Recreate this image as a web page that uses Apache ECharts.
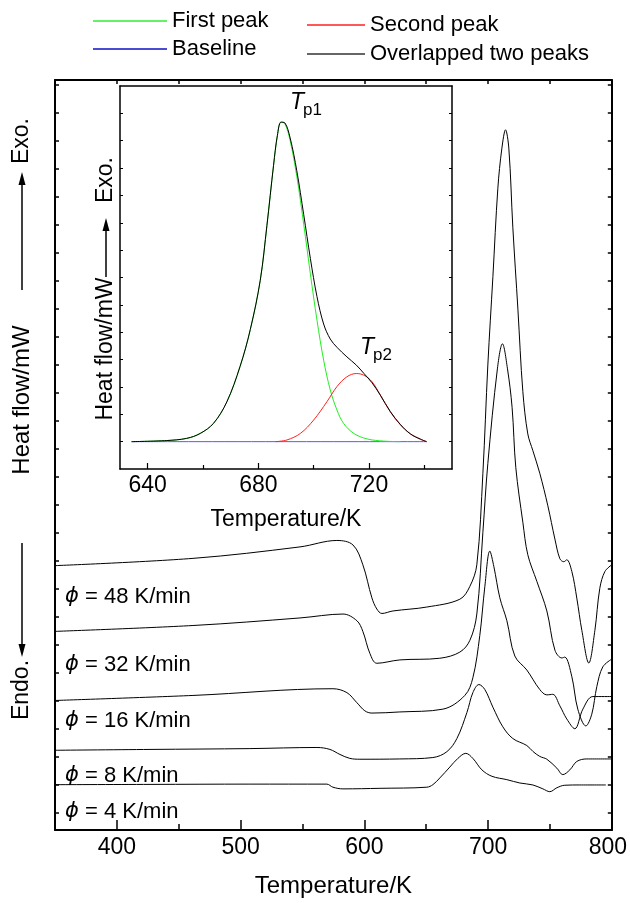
<!DOCTYPE html>
<html>
<head>
<meta charset="utf-8">
<script src="https://cdn.jsdelivr.net/npm/echarts@6/dist/echarts.min.js"></script>
<style>html,body{margin:0;padding:0;background:#fff}#c{width:630px;height:903px}</style>
</head>
<body>
<div id="c"></div>
<script>
// ---- main chart: heating-rate curves [T (K), heat flow (tick units)] ----
const rateNames = ['48 K/min', '32 K/min', '16 K/min', '8 K/min', '4 K/min'];
const curve48 = [[350,8.82],[461.5,9.08],[548.0,9.49],[577.8,9.72],[590.8,9.56],[598.8,8.85],[606.1,7.67],[610.1,7.27],[614.2,7.11],[623.1,7.20],[650.5,7.34],[677.2,7.62],[685.3,8.08],[690.9,8.85],[695.8,12.12],[699.8,15.99],[703.9,19.15],[707.9,22.31],[711.1,23.72],[714.1,24.40],[716.8,23.72],[720.0,20.92],[724.1,17.99],[728.1,15.04],[732.1,13.53],[736.2,12.93],[741.8,12.12],[748.3,10.96],[754.0,9.77],[758.0,9.07],[761.2,8.96],[763.6,9.03],[767.7,8.61],[771.7,7.66],[775.8,6.50],[781.4,5.34],[786.3,6.50],[790.3,8.01],[794.4,8.61],[800,8.85]];
const curve32 = [[350,6.47],[461.5,6.68],[548.0,6.95],[582.7,7.09],[594.0,6.85],[598.8,6.47],[604.5,5.68],[610.1,5.33],[628.7,5.45],[661.0,5.51],[677.2,5.73],[685.3,6.15],[690.9,7.09],[695.8,10.01],[699.8,12.47],[707.6,15.88],[711.6,16.75],[715.6,15.88],[719.4,14.48],[722.4,12.33],[728.1,10.37],[732.1,9.21],[739.4,8.26],[747.5,7.20],[754.0,5.80],[759.6,5.52],[762.0,5.55],[767.7,4.85],[772.5,3.69],[779.0,3.09],[783.8,3.51],[787.9,4.50],[792.7,5.20],[800,5.48]];
const curve16 = [[350,4.00],[461.5,4.18],[574.6,4.42],[585.9,4.28],[594.0,3.92],[600.4,3.63],[606.1,3.55],[628.7,3.59],[663.5,3.69],[681.2,4.18],[687.7,4.81],[693.3,6.32],[697.4,8.08],[701.4,9.34],[704.7,8.78],[709.5,7.67],[715.2,6.85],[721.6,5.59],[731.3,5.09],[741.8,4.39],[747.5,4.20],[752.3,4.22],[758.0,3.81],[763.6,3.34],[770.1,2.99],[776.6,3.69],[784.7,4.14],[800,4.14]];
const curve8 = [[350,2.22],[426.8,2.25],[507.5,2.28],[561.7,2.32],[572.2,2.25],[580.3,2.07],[588.3,1.93],[596.4,1.90],[628.7,1.91],[655.4,1.96],[666.7,2.17],[674.8,2.64],[682.9,3.57],[687.7,4.28],[692.6,4.57],[697.4,4.39],[703.9,3.76],[711.9,3.06],[720.0,2.64],[731.3,2.39],[736.2,2.18],[741.8,2.00],[747.5,1.90],[755.6,1.58],[760.4,1.35],[766.1,1.52],[771.7,1.82],[779.8,1.91],[800,1.91]];
const curve4 = [[350,0.99],[426.8,1.00],[507.5,1.01],[569.7,1.01],[574.6,0.90],[582.7,0.84],[612.6,0.86],[650.5,0.90],[655.4,0.99],[661.0,1.23],[669.1,1.62],[675.6,1.93],[682.0,2.11],[687.7,1.93],[695.0,1.52],[703.1,1.29],[715.2,1.17],[725.7,1.05],[736.2,0.98],[744.3,0.84],[749.9,0.74],[755.6,0.88],[762.0,0.97],[774.2,0.98],[795.2,0.98]];
const rateLabels = ['48 K/min', '32 K/min', '16 K/min', '8 K/min', '4 K/min'];

// ---- inset: peak separation [T (K), heat flow (tick units)] ----
const insetFirst = [[634.2,0],[646.9,0.04],[654.1,0.12],[659,0.30],[663.8,0.67],[668.6,1.45],[673.4,2.75],[677.1,4.1],[680.7,5.9],[683.1,7.9],[685.5,10.1],[686.9,11.2],[688.2,11.68],[689.6,11.62],[691.5,11.0],[693.9,9.7],[696.4,7.95],[698.8,6.14],[701.2,4.44],[703.6,2.98],[706,1.89],[708.4,1.16],[710.8,0.67],[714.5,0.30],[719.3,0.10],[725.3,0.02],[731.4,0]];
const insetSecond = [[686.3,0],[690.3,0.06],[695.2,0.30],[700,0.79],[704.8,1.46],[708.4,2.01],[712,2.37],[715.4,2.49],[718.1,2.43],[721.1,2.19],[724.1,1.70],[727.7,1.09],[731.4,0.61],[735,0.28],[738.6,0.09],[740.8,0]];
const insetSum = [[634.2,0],[646.9,0.04],[654.1,0.12],[659,0.30],[663.8,0.67],[668.6,1.45],[673.4,2.75],[677.1,4.1],[680.7,5.9],[683.1,7.9],[685.5,10.1],[686.9,11.2],[688.2,11.68],[689.6,11.65],[691.5,11.1],[693.9,9.9],[696.4,8.3],[698.8,6.7],[701.2,5.3],[703.6,4.3],[706,3.75],[708.4,3.45],[712,3.1],[715.4,2.8],[718.1,2.5],[721.1,2.15],[724.1,1.7],[727.7,1.1],[731.4,0.62],[735,0.28],[738.6,0.09],[740.8,0]];
const insetBase = [[634.2,0],[740.8,0]];

// ---- ticks ----
const mainMajorTicks = [400, 500, 600, 700, 800];
const mainMinorTicks = [450, 550, 650, 750];
const mainYTicks = [0,1,2,3,4,5,6,7,8,9,10,11,12,13,14,15,16,17,18,19,20,21,22,23,24,25,26];
const insetMajorTicks = [640, 680, 720];
const insetMinorTicks = [660, 700, 740];
const insetYTicks = [0,1,2,3,4,5,6,7,8,9,10,11,12];

const FONT = '"Liberation Sans", Arial, sans-serif';
const chart = echarts.init(document.getElementById('c'), null, {renderer: 'canvas'});

function mainLine(name, data) {
  return {name, type: 'line', xAxisIndex: 0, yAxisIndex: 0, data, symbol: 'none', smooth: 0.35,
    lineStyle: {color: '#000', width: 1}, itemStyle: {color: '#000'}, silent: true, z: 3};
}
function insetLine(name, data, color, z) {
  return {name, type: 'line', xAxisIndex: 3, yAxisIndex: 2, data, symbol: 'none', smooth: 0.35,
    lineStyle: {color, width: 1}, itemStyle: {color}, silent: true, z};
}
function legendAt(name, left, top, w, color) {
  return {data: [{name, icon: 'rect', itemStyle: {color}}], left, top, itemWidth: w, itemHeight: 1.4, padding: 0, selectedMode: false,
    textStyle: {fontSize: 22, color: '#000', fontFamily: FONT}};
}
function vtext(text, x, y, size) {
  return {type: 'text', x, y, rotation: Math.PI / 2,
    style: {text, x: 0, y: 0, textAlign: 'center', align: 'center', textVerticalAlign: 'middle', verticalAlign: 'middle',
      fontSize: size, fontFamily: FONT, fill: '#000'}};
}
function arrow(x, yTail, yTip) {
  const dir = yTip < yTail ? 1 : -1;
  const base = yTip + dir * 13;
  return [
    {type: 'line', shape: {x1: x, y1: yTail, x2: x, y2: base}, style: {stroke: '#000', lineWidth: 1.5}},
    {type: 'polygon', shape: {points: [[x, yTip], [x - 3.5, base], [x + 3.5, base]]}, style: {fill: '#000'}}
  ];
}
function rateText(label, x, y) {
  return {type: 'text', x, y,
    style: {text: '{i|\u03D5} = ' + label, x: 0, y: 0, textVerticalAlign: 'middle', verticalAlign: 'middle',
      fontSize: 22, fontFamily: FONT, fill: '#000',
      rich: {i: {fontStyle: 'italic', fontFamily: '"DejaVu Sans", sans-serif', fontSize: 21, fill: '#000'}}}};
}
function tpText(sub, x, y) {
  return [
    {type: 'text', x, y, style: {text: 'T', fontSize: 23, fontStyle: 'italic', fontFamily: FONT, fill: '#000', textVerticalAlign: 'middle', verticalAlign: 'middle'}},
    {type: 'text', x: x + 13, y: y + 7, style: {text: sub, fontSize: 17, fontFamily: FONT, fill: '#000', textVerticalAlign: 'middle', verticalAlign: 'middle'}}
  ];
}

const option = {
  animation: false,
  backgroundColor: '#fff',
  textStyle: {fontFamily: FONT},
  grid: [
    {left: 55, top: 80, width: 557, height: 763, containLabel: false},
    {left: 120, top: 86, width: 332, height: 383, containLabel: false}
  ],
  legend: [
    legendAt('First peak', 93, 10, 74, '#33ee33'),
    legendAt('Baseline', 93, 38, 74, '#1010c0'),
    legendAt('Second peak', 307, 14, 58, '#ff2020'),
    legendAt('Overlapped two peaks', 307, 43, 58, '#333333')
  ],
  xAxis: [
    {gridIndex: 0, type: 'value', min: 350, max: 800, position: 'bottom',
      axisLine: {onZero: false, lineStyle: {color: '#000', width: 2}},
      axisTick: {inside: true, length: 10, customValues: mainMajorTicks, lineStyle: {color: '#000', width: 1.5}},
      axisLabel: {customValues: mainMajorTicks, fontSize: 23, color: '#000', margin: 6, fontFamily: FONT,
        formatter: v => (v === 800 ? '{r|800}' : String(v)),
        rich: {r: {fontSize: 23, color: '#000', fontFamily: FONT, padding: [0, 8, 0, 0]}}},
      splitLine: {show: false},
      name: 'Temperature/K', nameLocation: 'middle', nameGap: 44,
      nameTextStyle: {fontSize: 24, color: '#000', fontFamily: FONT}},
    {gridIndex: 0, type: 'value', min: 350, max: 800, position: 'bottom',
      axisLine: {show: false, onZero: false},
      axisTick: {inside: true, length: 6, customValues: mainMinorTicks, lineStyle: {color: '#000', width: 1.5}},
      axisLabel: {show: false}, splitLine: {show: false}},
    {gridIndex: 0, type: 'value', min: 350, max: 800, interval: 50, position: 'top',
      axisLine: {onZero: false, lineStyle: {color: '#000', width: 2}},
      axisTick: {inside: true, length: 4, lineStyle: {color: '#000', width: 1.5}},
      axisLabel: {show: false}, splitLine: {show: false}},
    {gridIndex: 1, type: 'value', min: 630, max: 750, position: 'bottom',
      axisLine: {onZero: false, lineStyle: {color: '#000', width: 1.5}},
      axisTick: {inside: true, length: 6, customValues: insetMajorTicks, lineStyle: {color: '#000', width: 1.2}},
      axisLabel: {customValues: insetMajorTicks, fontSize: 23, color: '#000', margin: 5, fontFamily: FONT},
      splitLine: {show: false},
      name: 'Temperature/K', nameLocation: 'middle', nameGap: 39,
      nameTextStyle: {fontSize: 23, color: '#000', fontFamily: FONT}},
    {gridIndex: 1, type: 'value', min: 630, max: 750, position: 'bottom',
      axisLine: {show: false, onZero: false},
      axisTick: {inside: true, length: 4, customValues: insetMinorTicks, lineStyle: {color: '#000', width: 1.2}},
      axisLabel: {show: false}, splitLine: {show: false}},
    {gridIndex: 1, type: 'value', min: 630, max: 750, position: 'top',
      axisLine: {onZero: false, lineStyle: {color: '#000', width: 1.5}},
      axisTick: {show: false}, axisLabel: {show: false}, splitLine: {show: false}}
  ],
  yAxis: [
    {gridIndex: 0, type: 'value', min: -0.63, max: 26.18, position: 'left',
      axisLine: {show: true, onZero: false, lineStyle: {color: '#000', width: 2}},
      axisTick: {show: true, inside: true, length: 4, customValues: mainYTicks, lineStyle: {color: '#000', width: 1.5}},
      axisLabel: {show: false}, splitLine: {show: false}},
    {gridIndex: 0, type: 'value', min: -0.63, max: 26.18, position: 'right',
      axisLine: {show: true, onZero: false, lineStyle: {color: '#000', width: 2}},
      axisTick: {show: true, inside: true, length: 4, customValues: mainYTicks, lineStyle: {color: '#000', width: 1.5}},
      axisLabel: {show: false}, splitLine: {show: false}},
    {gridIndex: 1, type: 'value', min: -1, max: 13, position: 'left',
      axisLine: {show: true, onZero: false, lineStyle: {color: '#000', width: 1.5}},
      axisTick: {show: true, inside: true, length: 3, customValues: insetYTicks, lineStyle: {color: '#000', width: 1}},
      axisLabel: {show: false}, splitLine: {show: false}},
    {gridIndex: 1, type: 'value', min: -1, max: 13, position: 'right',
      axisLine: {show: true, onZero: false, lineStyle: {color: '#000', width: 1.5}},
      axisTick: {show: true, inside: true, length: 3, customValues: insetYTicks, lineStyle: {color: '#000', width: 1}},
      axisLabel: {show: false}, splitLine: {show: false}}
  ],
  series: [
    mainLine(rateNames[0], curve48),
    mainLine(rateNames[1], curve32),
    mainLine(rateNames[2], curve16),
    mainLine(rateNames[3], curve8),
    mainLine(rateNames[4], curve4),
    insetLine('Baseline', insetBase, '#5858ff', 2),
    insetLine('First peak', insetFirst, '#22ee22', 3),
    insetLine('Second peak', insetSecond, '#ff2020', 3),
    insetLine('Overlapped two peaks', insetSum, '#000000', 4)
  ],
  graphic: [
    vtext('Exo.', 22, 141, 23),
    ...arrow(22, 290, 172),
    vtext('Heat flow/mW', 22, 400, 24),
    ...arrow(22, 543, 657),
    vtext('Endo.', 22, 690, 23),
    vtext('Exo.', 106, 180, 23),
    ...arrow(106, 277, 218),
    vtext('Heat flow/mW', 106, 349, 23),
    ...tpText('p1', 290, 103),
    ...tpText('p2', 360, 348),
    rateText(rateLabels[0], 65, 597),
    rateText(rateLabels[1], 65, 665),
    rateText(rateLabels[2], 65, 721),
    rateText(rateLabels[3], 65, 776),
    rateText(rateLabels[4], 65, 812)
  ]
};
chart.setOption(option);
</script>
</body>
</html>
